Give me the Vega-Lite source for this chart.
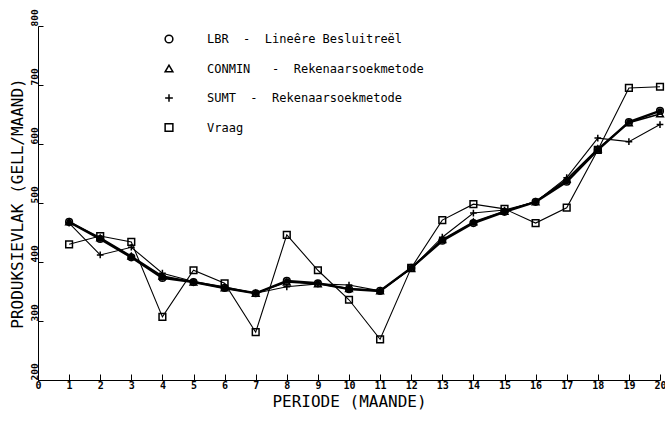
{
  "$schema": "https://vega.github.io/schema/vega-lite/v6.json",
  "width": 622,
  "height": 354,
  "autosize": {"type": "none"},
  "padding": {"left": 38, "top": 26, "right": 5, "bottom": 44},
  "background": "white",
  "config": {
    "view": {"stroke": null},
    "font": "DejaVu Sans Mono",
    "axis": {"domainColor": "black", "tickColor": "black", "labelColor": "black", "titleColor": "black", "grid": false}
  },
  "datasets": {
    "reekse": [
      {"reeks": "LBR", "periode": 1, "waarde": 468}, {"reeks": "LBR", "periode": 2, "waarde": 439},
      {"reeks": "LBR", "periode": 3, "waarde": 408}, {"reeks": "LBR", "periode": 4, "waarde": 373},
      {"reeks": "LBR", "periode": 5, "waarde": 366}, {"reeks": "LBR", "periode": 6, "waarde": 356},
      {"reeks": "LBR", "periode": 7, "waarde": 347}, {"reeks": "LBR", "periode": 8, "waarde": 368},
      {"reeks": "LBR", "periode": 9, "waarde": 364}, {"reeks": "LBR", "periode": 10, "waarde": 354},
      {"reeks": "LBR", "periode": 11, "waarde": 351}, {"reeks": "LBR", "periode": 12, "waarde": 390},
      {"reeks": "LBR", "periode": 13, "waarde": 436}, {"reeks": "LBR", "periode": 14, "waarde": 466},
      {"reeks": "LBR", "periode": 15, "waarde": 485}, {"reeks": "LBR", "periode": 16, "waarde": 502},
      {"reeks": "LBR", "periode": 17, "waarde": 536}, {"reeks": "LBR", "periode": 18, "waarde": 590},
      {"reeks": "LBR", "periode": 19, "waarde": 637}, {"reeks": "LBR", "periode": 20, "waarde": 656},
      {"reeks": "CONMIN", "periode": 1, "waarde": 468}, {"reeks": "CONMIN", "periode": 2, "waarde": 441},
      {"reeks": "CONMIN", "periode": 3, "waarde": 410}, {"reeks": "CONMIN", "periode": 4, "waarde": 376},
      {"reeks": "CONMIN", "periode": 5, "waarde": 366}, {"reeks": "CONMIN", "periode": 6, "waarde": 356},
      {"reeks": "CONMIN", "periode": 7, "waarde": 347}, {"reeks": "CONMIN", "periode": 8, "waarde": 366},
      {"reeks": "CONMIN", "periode": 9, "waarde": 363}, {"reeks": "CONMIN", "periode": 10, "waarde": 355},
      {"reeks": "CONMIN", "periode": 11, "waarde": 351}, {"reeks": "CONMIN", "periode": 12, "waarde": 389},
      {"reeks": "CONMIN", "periode": 13, "waarde": 438}, {"reeks": "CONMIN", "periode": 14, "waarde": 468},
      {"reeks": "CONMIN", "periode": 15, "waarde": 486}, {"reeks": "CONMIN", "periode": 16, "waarde": 502},
      {"reeks": "CONMIN", "periode": 17, "waarde": 540}, {"reeks": "CONMIN", "periode": 18, "waarde": 592},
      {"reeks": "CONMIN", "periode": 19, "waarde": 636}, {"reeks": "CONMIN", "periode": 20, "waarde": 651},
      {"reeks": "SUMT", "periode": 1, "waarde": 466}, {"reeks": "SUMT", "periode": 2, "waarde": 412},
      {"reeks": "SUMT", "periode": 3, "waarde": 425}, {"reeks": "SUMT", "periode": 4, "waarde": 381},
      {"reeks": "SUMT", "periode": 5, "waarde": 367}, {"reeks": "SUMT", "periode": 6, "waarde": 358},
      {"reeks": "SUMT", "periode": 7, "waarde": 347}, {"reeks": "SUMT", "periode": 8, "waarde": 358},
      {"reeks": "SUMT", "periode": 9, "waarde": 363}, {"reeks": "SUMT", "periode": 10, "waarde": 361},
      {"reeks": "SUMT", "periode": 11, "waarde": 351}, {"reeks": "SUMT", "periode": 12, "waarde": 389},
      {"reeks": "SUMT", "periode": 13, "waarde": 442}, {"reeks": "SUMT", "periode": 14, "waarde": 483},
      {"reeks": "SUMT", "periode": 15, "waarde": 488}, {"reeks": "SUMT", "periode": 16, "waarde": 502},
      {"reeks": "SUMT", "periode": 17, "waarde": 543}, {"reeks": "SUMT", "periode": 18, "waarde": 610},
      {"reeks": "SUMT", "periode": 19, "waarde": 604}, {"reeks": "SUMT", "periode": 20, "waarde": 633},
      {"reeks": "Vraag", "periode": 1, "waarde": 430}, {"reeks": "Vraag", "periode": 2, "waarde": 444},
      {"reeks": "Vraag", "periode": 3, "waarde": 434}, {"reeks": "Vraag", "periode": 4, "waarde": 307},
      {"reeks": "Vraag", "periode": 5, "waarde": 386}, {"reeks": "Vraag", "periode": 6, "waarde": 364},
      {"reeks": "Vraag", "periode": 7, "waarde": 281}, {"reeks": "Vraag", "periode": 8, "waarde": 446},
      {"reeks": "Vraag", "periode": 9, "waarde": 386}, {"reeks": "Vraag", "periode": 10, "waarde": 336},
      {"reeks": "Vraag", "periode": 11, "waarde": 269}, {"reeks": "Vraag", "periode": 12, "waarde": 390},
      {"reeks": "Vraag", "periode": 13, "waarde": 471}, {"reeks": "Vraag", "periode": 14, "waarde": 498},
      {"reeks": "Vraag", "periode": 15, "waarde": 490}, {"reeks": "Vraag", "periode": 16, "waarde": 466},
      {"reeks": "Vraag", "periode": 17, "waarde": 492}, {"reeks": "Vraag", "periode": 18, "waarde": 590},
      {"reeks": "Vraag", "periode": 19, "waarde": 695}, {"reeks": "Vraag", "periode": 20, "waarde": 697}
    ]
  },
  "data": {"name": "reekse"},
  "encoding": {
    "x": {
      "field": "periode", "type": "quantitative",
      "scale": {"domain": [0, 20], "nice": false, "zero": false},
      "axis": {
        "title": "PERIODE  (MAANDE)",
        "values": [0,1,2,3,4,5,6,7,8,9,10,11,12,13,14,15,16,17,18,19,20],
        "format": "d",
        "labelFontSize": 10, "labelFontWeight": "bold", "labelFont": "DejaVu Sans Mono",
        "tickSize": -6, "labelPadding": 6, "labelFlush": false, "labelOverlap": false,
        "titleFont": "DejaVu Sans Mono", "titleFontSize": 16, "titleFontWeight": "normal", "titlePadding": 3
      }
    },
    "y": {
      "field": "waarde", "type": "quantitative",
      "scale": {"domain": [200, 800], "nice": false, "zero": false},
      "axis": {
        "title": "PRODUKSIEVLAK  (GELL/MAAND)",
        "values": [200,300,400,500,600,700,800],
        "labelAngle": -90, "labelAlign": "left", "labelBaseline": "bottom",
        "labelFontSize": 9.5, "labelFontWeight": "bold", "labelFont": "DejaVu Sans Mono",
        "tickSize": -5, "labelPadding": 4, "labelFlush": false, "labelOverlap": false,
        "titleFont": "DejaVu Sans Mono", "titleFontSize": 16, "titleFontWeight": "normal", "titlePadding": 4
      }
    }
  },
  "layer": [
    {
      "transform": [{"filter": "datum.reeks == 'LBR'"}],
      "mark": {"type": "line", "color": "black", "strokeWidth": 2.4},
      "encoding": {}
    },
    {
      "transform": [{"filter": "datum.reeks == 'CONMIN'"}],
      "mark": {"type": "line", "color": "black", "strokeWidth": 1.6},
      "encoding": {}
    },
    {
      "transform": [{"filter": "datum.reeks == 'SUMT' || datum.reeks == 'Vraag'"}],
      "mark": {"type": "line", "color": "black", "strokeWidth": 1.1},
      "encoding": {"detail": {"field": "reeks"}}
    },
    {
      "mark": {"type": "point", "filled": false, "color": "black", "opacity": 1, "strokeWidth": 1.5, "size": 45},
      "encoding": {
        "shape": {
          "field": "reeks", "type": "nominal",
          "scale": {"domain": ["LBR", "CONMIN", "SUMT", "Vraag"], "range": ["circle", "triangle-up", "M-1,0H1M0,-1V1", "square"]},
          "legend": {
            "title": null, "orient": "none", "legendX": 125, "legendY": 7,
            "labelExpr": "datum.value == 'LBR' ? 'LBR\u00a0\u00a0-\u00a0\u00a0Lineêre Besluitreël' : datum.value == 'CONMIN' ? 'CONMIN\u00a0\u00a0\u00a0-\u00a0\u00a0Rekenaarsoekmetode' : datum.value == 'SUMT' ? 'SUMT\u00a0\u00a0-\u00a0\u00a0Rekenaarsoekmetode' : 'Vraag'",
            "labelFont": "DejaVu Sans Mono", "labelFontSize": 12, "labelColor": "black", "labelLimit": 400,
            "labelOffset": 32, "rowPadding": 15.5, "symbolSize": 60, "symbolStrokeColor": "black", "symbolStrokeWidth": 1.5, "symbolOpacity": 1,
            "padding": 0
          }
        }
      }
    },
    {
      "transform": [{"filter": "datum.reeks == 'LBR'"}],
      "mark": {"type": "circle", "color": "black", "opacity": 1, "size": 30},
      "encoding": {}
    }
  ]
}
